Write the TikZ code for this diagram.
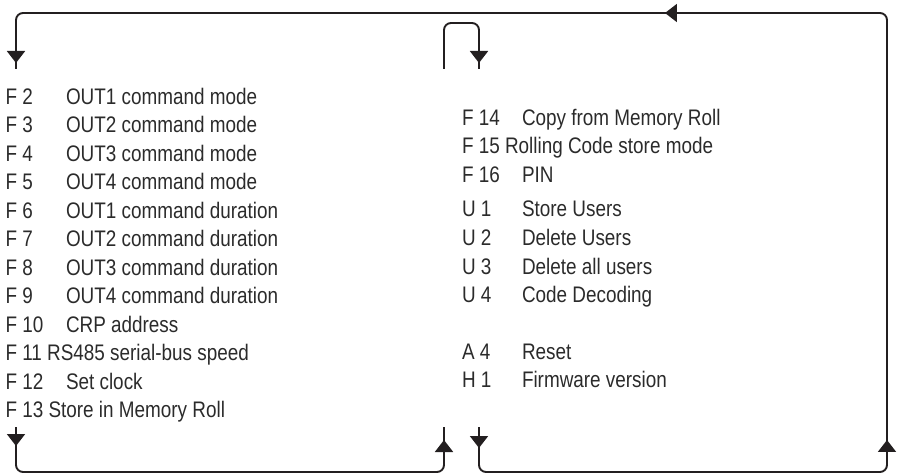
\documentclass[tikz,border=0pt]{standalone}
\usepackage{fontspec}
\setmainfont{Liberation Sans}[FakeStretch=0.84]
\usetikzlibrary{arrows.meta,decorations.markings}
\definecolor{txt}{HTML}{2B2B2B}
\definecolor{linec}{HTML}{231F20}
\newcommand{\itemfont}{\fontsize{22.5}{26}\selectfont}
\tikzset{
  itemtext/.style={anchor=base west, inner sep=0pt, outer sep=0pt, text=txt, font=\itemfont},
  flowline/.style={draw=linec, line width=1.9pt, rounded corners=7pt},
  tipshape/.tip={Triangle[length=12pt,width=18pt]},
}
\begin{document}
\begin{tikzpicture}[x=1pt,y=-1pt]
\useasboundingbox (0,0) rectangle (898,476);

% left column
\foreach \lab/\desc/\yy [count=\i] in {
  F 2/OUT1 command mode/104.5,
  F 3/OUT2 command mode/132.95,
  F 4/OUT3 command mode/161.4,
  F 5/OUT4 command mode/189.85,
  F 6/OUT1 command duration/218.3,
  F 7/OUT2 command duration/246.75,
  F 8/OUT3 command duration/275.2,
  F 9/OUT4 command duration/303.65,
  F 10/CRP address/332.1,
  F 12/Set clock/389}{
  \node[itemtext] (lk\i) at (5.5,\yy) {\lab};
  \node[itemtext] (ld\i) at (66,\yy) {\desc};
}
\node[itemtext] (l11) at (5.5,360.55) {F 11 RS485 serial-bus speed};
\node[itemtext] (l13) at (5.5,417.45) {F 13 Store in Memory Roll};

% right column
\foreach \lab/\desc/\yy [count=\i] in {
  F 14/Copy from Memory Roll/125.5,
  F 16/PIN/182.5,
  U 1/Store Users/217,
  U 2/Delete Users/245.5,
  U 3/Delete all users/274,
  U 4/Code Decoding/302.5,
  A 4/Reset/359,
  H 1/Firmware version/387.5}{
  \node[itemtext] (rk\i) at (462,\yy) {\lab};
  \node[itemtext] (rd\i) at (522,\yy) {\desc};
}
\node[itemtext] (r15) at (462,154) {F 15 Rolling Code store mode};

% connector ends
\coordinate (s1) at (16,427);
\coordinate (e1) at (444,427);
\coordinate (s2) at (444,69);
\coordinate (e2) at (479,69);
\coordinate (s3) at (479,427);
\coordinate (e3) at (16,69);

\draw[flowline, postaction={decorate}, decoration={markings,
    mark=at position 19pt with {\arrow{tipshape}},
    mark=at position -13pt with {\arrow{tipshape}}}]
  (s1) -- (16,472) -- (444,472) -- (e1);
\draw[flowline, postaction={decorate}, decoration={markings,
    mark=at position -6pt with {\arrow{tipshape}}}]
  (s2) -- (444,23) -- (479,23) -- (e2);
\draw[flowline, postaction={decorate}, decoration={markings,
    mark=at position 21pt with {\arrow{tipshape}},
    mark=at position 479pt with {\arrow{tipshape}},
    mark=at position 1125pt with {\arrow{tipshape}},
    mark=at position -6pt with {\arrow{tipshape}}}]
  (s3) -- (479,472) -- (887,472) -- (887,13) -- (16,13) -- (e3);
\end{tikzpicture}
\end{document}
